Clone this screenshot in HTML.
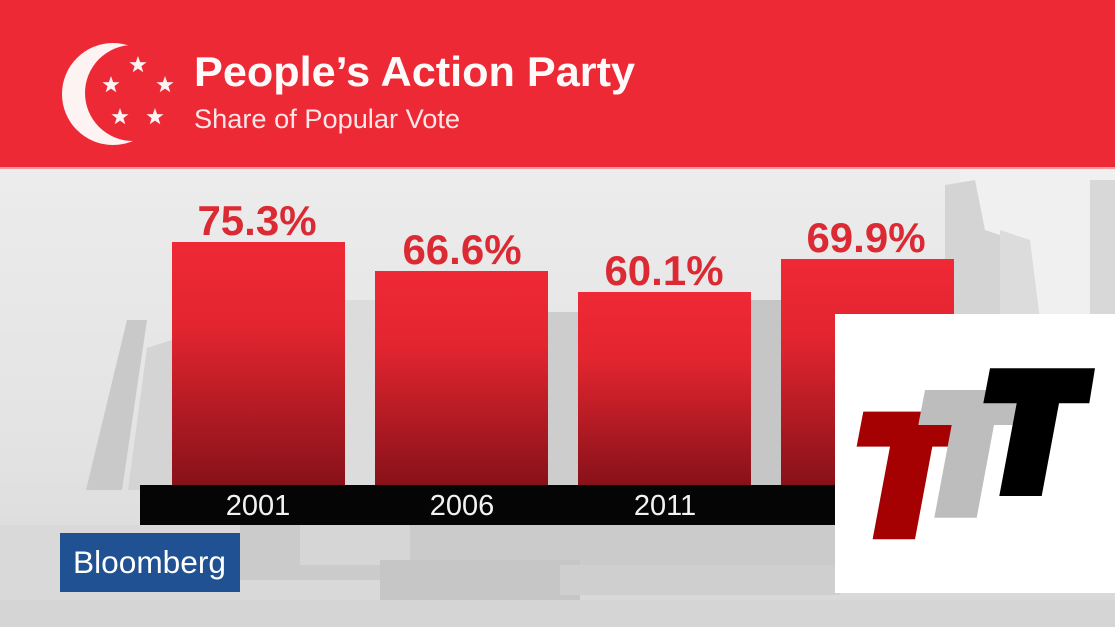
<!DOCTYPE html>
<html>
<head>
<meta charset="utf-8">
<style>
html,body{margin:0;padding:0;background:#e4e4e4;}
svg{display:block;}
text{font-family:"Liberation Sans",sans-serif;}
</style>
</head>
<body>
<svg width="1115" height="627" viewBox="0 0 1115 627" xmlns="http://www.w3.org/2000/svg">
  <defs>
    <linearGradient id="bg" x1="0" y1="0" x2="0" y2="1">
      <stop offset="0" stop-color="#ececec"/>
      <stop offset="0.6" stop-color="#e3e3e3"/>
      <stop offset="1" stop-color="#d8d8d8"/>
    </linearGradient>
    <linearGradient id="bar" x1="0" y1="0" x2="0" y2="1">
      <stop offset="0" stop-color="#ef2935"/>
      <stop offset="0.35" stop-color="#e2252f"/>
      <stop offset="1" stop-color="#861119"/>
    </linearGradient>
    <path id="star" d="M0,-9 L2.12,-2.91 L8.56,-2.78 L3.42,1.11 L5.29,7.28 L0,3.6 L-5.29,7.28 L-3.42,1.11 L-8.56,-2.78 L-2.12,-2.91 Z" fill="#fdf3f3"/>
    <path id="tee" d="M990,368.3 L1095,368.3 L1089.3,403.3 L1059,403.3 L1041.7,496 L999.3,496 L1016.7,403.3 L983.3,403.3 Z"/>
  </defs>

  <!-- background -->
  <rect x="0" y="168" width="1115" height="459" fill="url(#bg)"/>
  <rect x="960" y="170" width="155" height="150" fill="#f0f0f0"/>
  <polygon points="945,185 975,180 985,230 1000,235 1000,320 945,320" fill="#d4d4d4"/>
  <polygon points="1000,230 1030,240 1040,320 1000,320" fill="#dcdcdc"/>
  <rect x="1090" y="180" width="25" height="140" fill="#d8d8d8"/>
  <polygon points="127,320 147,320 122,490 86,490" fill="#c9c9c9"/>
  <polygon points="147,348 172,340 172,490 128,490" fill="#d4d4d4"/>
  <rect x="548" y="312" width="30" height="173" fill="#cdcdcd"/>
  <rect x="751" y="300" width="30" height="185" fill="#c6c6c6"/>
  <rect x="345" y="300" width="30" height="185" fill="#dcdcdc"/>
  <!-- bottom harbor -->
  <rect x="0" y="525" width="1115" height="102" fill="#d9d9d9"/>
  <rect x="240" y="525" width="600" height="55" fill="#cbcbcb"/>
  <rect x="300" y="525" width="110" height="40" fill="#d6d6d6"/>
  <rect x="380" y="560" width="200" height="45" fill="#c6c6c6"/>
  <rect x="560" y="565" width="280" height="30" fill="#cfcfcf"/>
  <rect x="0" y="600" width="1115" height="27" fill="#d5d5d5"/>

  <!-- header -->
  <rect x="0" y="0" width="1115" height="168" fill="#ee2936"/>
  <rect x="0" y="167" width="1115" height="2" fill="#f39a9f"/>

  <!-- logo crescent -->
  <circle cx="113" cy="94" r="51" fill="#fdf3f3"/>
  <circle cx="133" cy="93" r="48" fill="#ee2936"/>
  <use href="#star" x="138" y="65"/>
  <use href="#star" x="111" y="85"/>
  <use href="#star" x="165" y="85"/>
  <use href="#star" x="120" y="117"/>
  <use href="#star" x="155" y="117"/>

  <text x="194" y="86" font-size="42" font-weight="bold" fill="#fefafa" textLength="441" lengthAdjust="spacingAndGlyphs">People’s Action Party</text>
  <text x="194" y="128" font-size="27" fill="#fde6e8" textLength="266" lengthAdjust="spacingAndGlyphs">Share of Popular Vote</text>

  <!-- bars -->
  <rect x="172" y="242" width="173" height="245" fill="url(#bar)"/>
  <rect x="375" y="271" width="173" height="216" fill="url(#bar)"/>
  <rect x="578" y="292" width="173" height="195" fill="url(#bar)"/>
  <rect x="781" y="259" width="173" height="228" fill="url(#bar)"/>

  <!-- value labels -->
  <g font-size="42" font-weight="bold" fill="#dc2a34" text-anchor="middle">
    <text x="257" y="235">75.3%</text>
    <text x="462" y="264">66.6%</text>
    <text x="664" y="285">60.1%</text>
    <text x="866" y="252">69.9%</text>
  </g>

  <!-- axis strip -->
  <rect x="140" y="485" width="700" height="40" fill="#050505"/>
  <g font-size="29" fill="#f2f2f2" text-anchor="middle">
    <text x="258" y="515">2001</text>
    <text x="462" y="515">2006</text>
    <text x="665" y="515">2011</text>
  </g>

  <!-- Bloomberg -->
  <rect x="60" y="533" width="180" height="59" fill="#1f5193"/>
  <text x="73" y="573" font-size="31.5" fill="#ffffff" textLength="153" lengthAdjust="spacingAndGlyphs">Bloomberg</text>

  <!-- white watermark box -->
  <rect x="835" y="314" width="280" height="279" fill="#ffffff"/>
  <use href="#tee" transform="translate(-126.7,43.3)" fill="#a50103"/>
  <use href="#tee" transform="translate(-65,21.7)" fill="#bdbdbd"/>
  <use href="#tee" fill="#000000"/>
</svg>
</body>
</html>
